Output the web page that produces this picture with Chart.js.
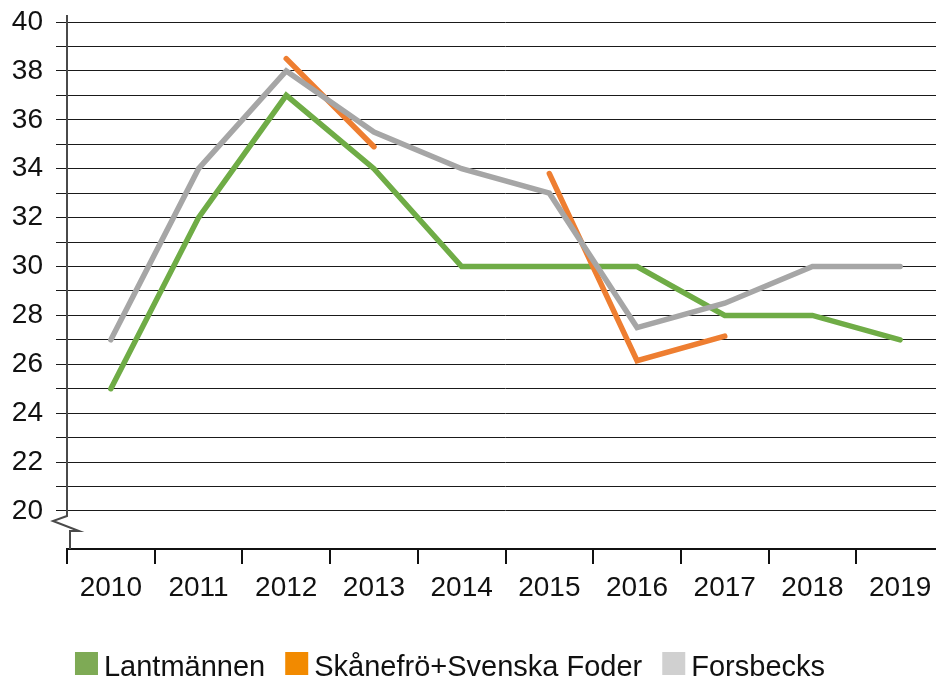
<!DOCTYPE html>
<html><head><meta charset="utf-8">
<script src="https://cdn.jsdelivr.net/npm/chart.js@4.4.1/dist/chart.umd.min.js"></script>
<style>
html,body{margin:0;padding:0;overflow:hidden;background:#fff;width:936px;height:679px;}
#wrap{position:absolute;left:-40px;top:0;width:984px;height:679px;}
</style></head><body>
<div id="wrap"><canvas id="c" width="984" height="679"></canvas></div>
<script>
const categories = ['2010','2011','2012','2013','2014','2015','2016','2017','2018','2019'];
const lantmannen = [25, 32, 37, 34, 30, 30, 30, 28, 28, 27];
const skanefro = [null, null, 38.5, 34.9, null, 33.8, 26.15, 27.15, null, null];
const forsbecks = [27, 34, 38, 35.5, 34, 33, 27.5, 28.5, 30, 30];
const seriesNames = ['Lantmännen', 'Skånefrö+Svenska Foder', 'Forsbecks'];
const lineColors = ['#6fac46', '#ee7e31', '#a6a6a6'];
const legendColors = ['#7eaa55', '#f28a00', '#d0d0d0'];
const yTickFirst = 20, yTickLast = 40, yTickLabelStep = 2;

const TICK_FONT = "'Liberation Sans', Arial, sans-serif";
const LEGEND_FONT = "'Liberation Sans', Arial, sans-serif";

const axisBreak = {
  id: 'axisBreak',
  beforeDatasetsDraw(chart) {
    const { ctx, chartArea, scales: { y } } = chart;
    const L = chartArea.left, p20 = y.getPixelForValue(yTickFirst);
    ctx.save();
    ctx.strokeStyle = '#4a4a4a';
    ctx.lineWidth = 2;
    ctx.lineJoin = 'miter';
    ctx.beginPath();
    ctx.moveTo(L, chartArea.top - 7);
    ctx.lineTo(L, p20 + 5);
    ctx.lineTo(L - 14, p20 + 10);
    ctx.lineTo(L + 12, p20 + 20);
    ctx.lineTo(L + 3, p20 + 20);
    ctx.lineTo(L + 3, chartArea.bottom);
    ctx.stroke();
    ctx.restore();
  }
};

const customLegend = {
  id: 'customLegend',
  afterDraw(chart) {
    const { ctx } = chart;
    ctx.save();
    ctx.font = "29px " + LEGEND_FONT;
    const box = 23, gapText = 6, gapItem = 20;
    const widths = chart.data.datasets.map(d => ctx.measureText(d.label).width);
    let total = widths.reduce((a, w) => a + box + gapText + w, 0) + gapItem * (widths.length - 1);
    let x = chart.width / 2 - total / 2 - 2;
    const top = 652, baseline = 676;
    chart.data.datasets.forEach((d, i) => {
      ctx.fillStyle = legendColors[i];
      ctx.fillRect(x, top, box, box);
      x += box + gapText;
      ctx.fillStyle = '#111';
      ctx.textBaseline = 'alphabetic';
      ctx.textAlign = 'left';
      ctx.fillText(d.label, x, baseline);
      x += widths[i] + gapItem;
    });
    ctx.restore();
  }
};

const mk = (i, data, order) => ({
  label: seriesNames[i],
  data,
  borderColor: lineColors[i],
  backgroundColor: lineColors[i],
  borderWidth: 5.5,
  borderCapStyle: 'round',
  borderJoinStyle: 'miter',
  pointRadius: 0,
  pointHoverRadius: 0,
  tension: 0,
  spanGaps: false,
  fill: false,
  order
});

new Chart(document.getElementById('c'), {
  type: 'line',
  data: {
    labels: categories,
    datasets: [mk(0, lantmannen, 2), mk(1, skanefro, 1), mk(2, forsbecks, 0)]
  },
  options: {
    responsive: false,
    animation: false,
    devicePixelRatio: 1,
    layout: { padding: { top: 22, left: 0, right: 0, bottom: 0 } },
    plugins: { legend: { display: false }, tooltip: { enabled: false } },
    scales: {
      x: {
        type: 'category',
        offset: true,
        afterFit(scale) { scale.height = 130; scale.paddingLeft = 0; scale.paddingRight = 0; },
        border: { display: true, color: '#111', width: 2 },
        grid: { display: true, drawOnChartArea: false, drawTicks: true, tickLength: 15, offset: true, color: '#111', lineWidth: 2 },
        ticks: { color: '#111', font: { family: TICK_FONT, size: 28 }, padding: 7, maxRotation: 0, autoSkip: false }
      },
      y: {
        min: 18.445,
        max: 40,
        afterFit(scale) { scale.width = 107; scale.paddingTop = 0; scale.paddingBottom = 0; },
        afterBuildTicks(scale) {
          scale.ticks = scale.ticks.filter(t => t.value >= yTickFirst && t.value <= yTickLast && Number.isInteger(t.value));
        },
        border: { display: false },
        grid: { color: '#1a1a1a', lineWidth: 1, drawTicks: true, tickLength: 11 },
        ticks: {
          stepSize: 1,
          autoSkip: false,
          color: '#111',
          padding: 13,
          font: { family: TICK_FONT, size: 28 },
          callback: v => (v % yTickLabelStep === 0 ? String(v) : '')
        }
      }
    }
  },
  plugins: [axisBreak, customLegend]
});
</script>
</body></html>
